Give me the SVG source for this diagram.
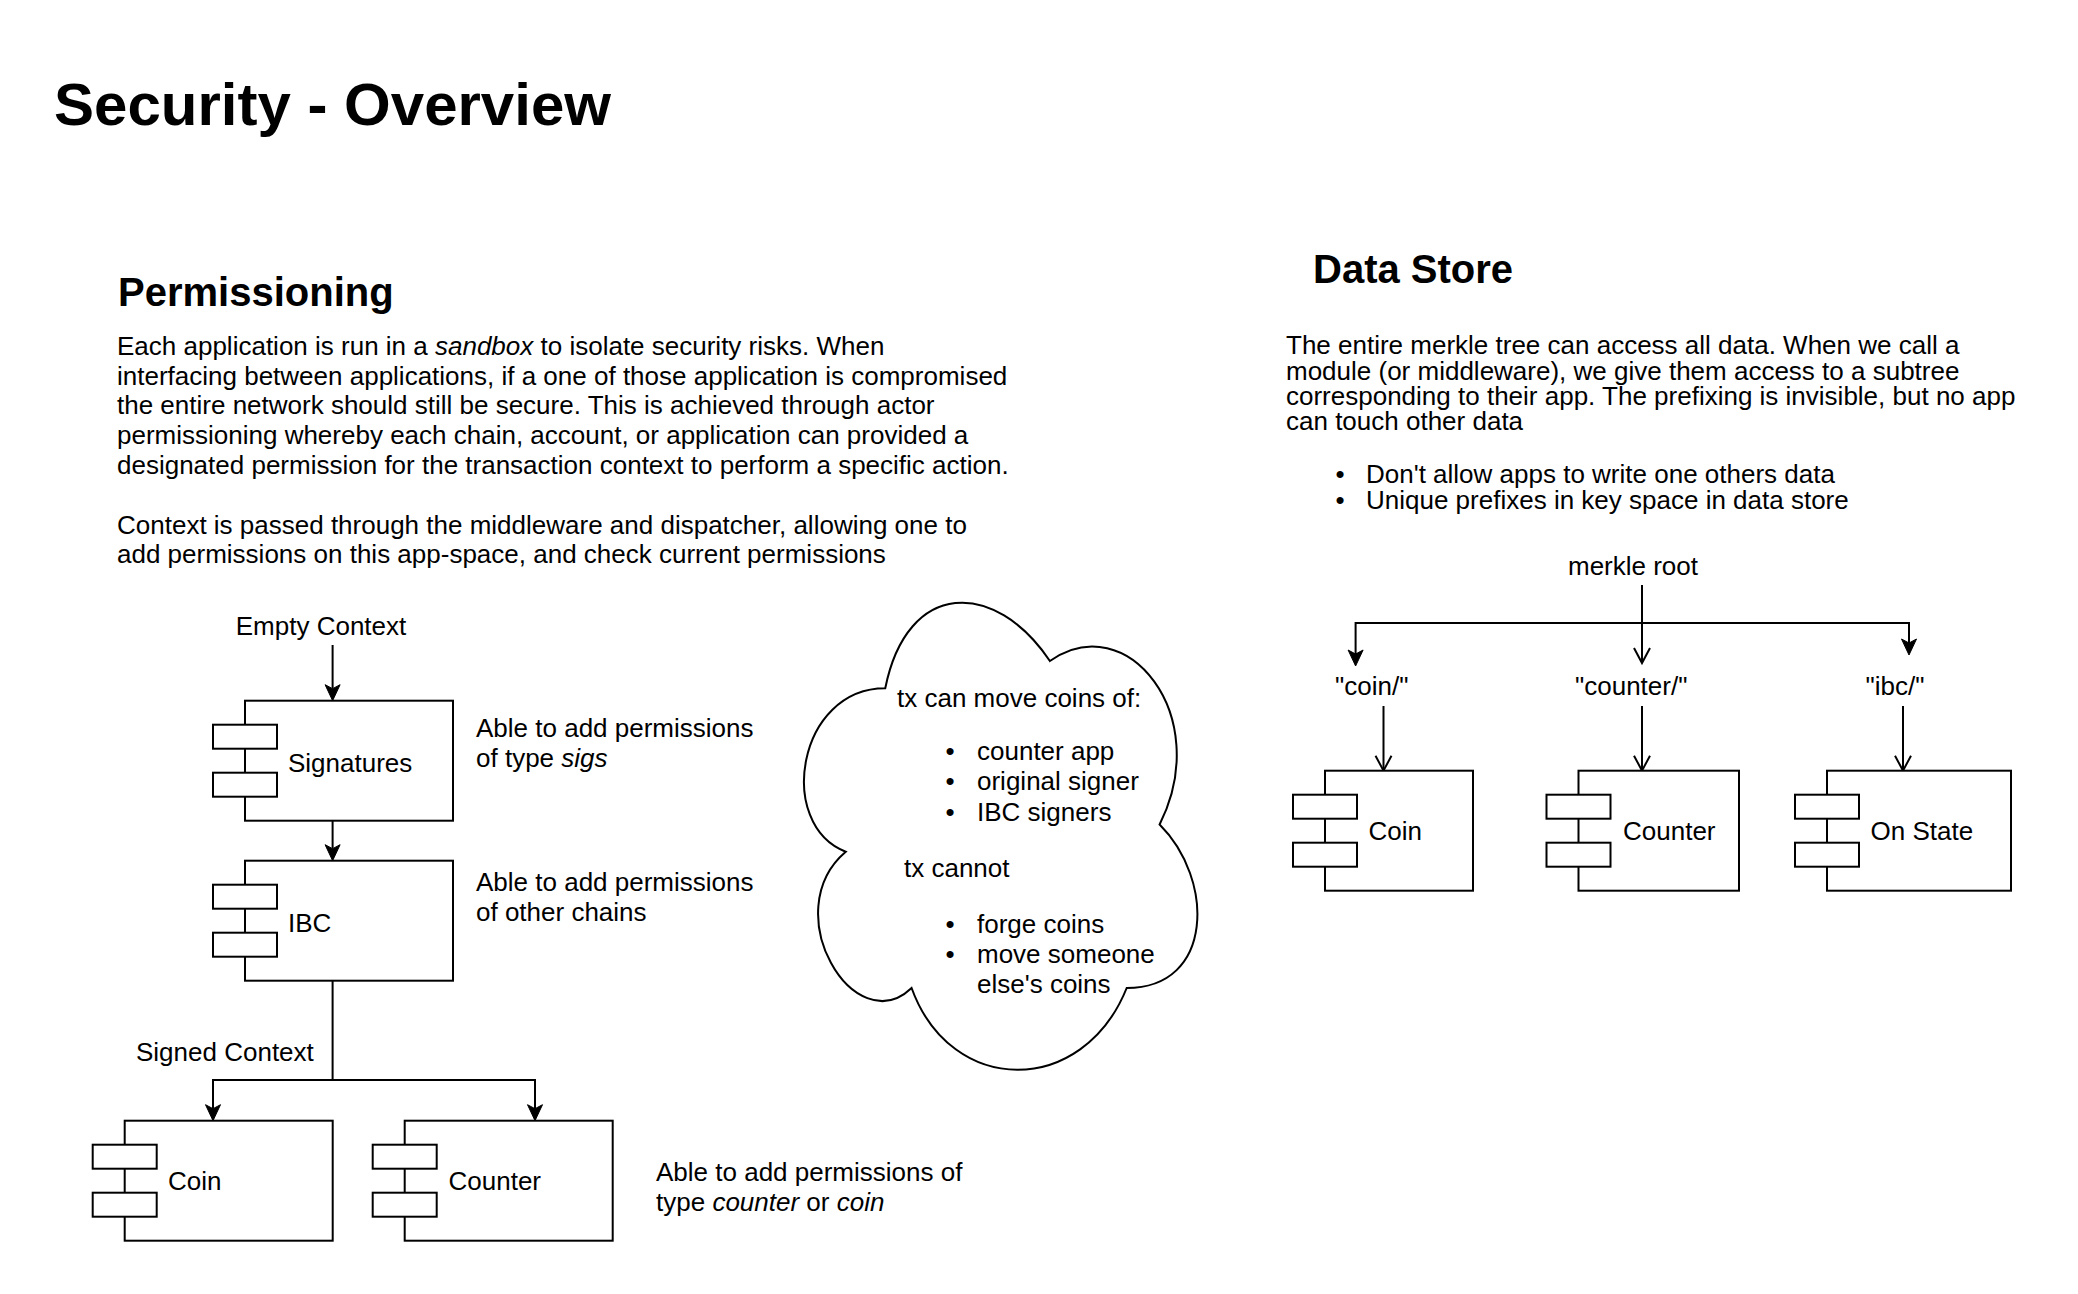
<svg xmlns="http://www.w3.org/2000/svg" width="2078" height="1294" viewBox="0 0 2078 1294">
<style>
text{font-family:"Liberation Sans",Arial,sans-serif;fill:#000;font-size:26px}
.title{font-size:60px;font-weight:bold}
.h{font-size:40px;font-weight:bold}
.i{font-style:italic}
.box{fill:#fff;stroke:#000;stroke-width:2}
.edge{fill:none;stroke:#000;stroke-width:2}
</style>
<defs>
<marker id="classic" markerUnits="userSpaceOnUse" viewBox="-17 -9 18 18" refX="-12" refY="0" markerWidth="18" markerHeight="18" orient="auto" overflow="visible">
<path d="M0,0 L-16,-7.5 L-12,0 L-16,7.5 Z" fill="#000" stroke="#000" stroke-width="1"/>
</marker>
<marker id="open" markerUnits="userSpaceOnUse" viewBox="-17 -9 18 18" refX="-1" refY="0" markerWidth="18" markerHeight="18" orient="auto" overflow="visible">
<path d="M-15,-8 L0,0 L-15,8" fill="none" stroke="#000" stroke-width="2"/>
</marker>
</defs>
<rect width="2078" height="1294" fill="#fff"/>

<g id="title"><text class="title" x="54" y="125">Security - Overview</text></g>

<g id="permissioning-text">
<text class="h" x="118" y="306">Permissioning</text>
<text x="117" y="354.5">Each application is run in a <tspan class="i">sandbox</tspan> to isolate security risks. When</text>
<text x="117" y="384.5">interfacing between applications, if a one of those application is compromised</text>
<text x="117" y="414">the entire network should still be secure. This is achieved through actor</text>
<text x="117" y="443.5">permissioning whereby each chain, account, or application can provided a</text>
<text x="117" y="473.5">designated permission for the transaction context to perform a specific action.</text>
<text x="117" y="533.5">Context is passed through the middleware and dispatcher, allowing one to</text>
<text x="117" y="563">add permissions on this app-space, and check current permissions</text>
</g>

<g id="datastore-text">
<text class="h" x="1313" y="282.5">Data Store</text>
<text x="1286" y="354">The entire merkle tree can access all data. When we call a</text>
<text x="1286" y="379.5">module (or middleware), we give them access to a subtree</text>
<text x="1286" y="405">corresponding to their app. The prefixing is invisible, but no app</text>
<text x="1286" y="430">can touch other data</text>
<text x="1335.5" y="483">•</text><text x="1366" y="483">Don't allow apps to write one others data</text>
<text x="1335.5" y="508.5">•</text><text x="1366" y="508.5">Unique prefixes in key space in data store</text>
</g>

<g id="connectors">
<path class="edge" d="M332.6,645 V688.7" marker-end="url(#classic)"/>
<path class="edge" d="M332.6,820.7 V848.7" marker-end="url(#classic)"/>
<path class="edge" d="M332.6,980.7 V1080 H213 V1108.7" marker-end="url(#classic)"/>
<path class="edge" d="M332.6,1080 H535 V1108.7" marker-end="url(#classic)"/>
<path class="edge" d="M1642,585 V662" marker-end="url(#open)"/>
<path class="edge" d="M1642,623 H1355.6 V654" marker-end="url(#classic)"/>
<path class="edge" d="M1642,623 H1909 V643" marker-end="url(#classic)"/>
<path class="edge" d="M1383.5,706 V769.7" marker-end="url(#open)"/>
<path class="edge" d="M1642,706 V769.7" marker-end="url(#open)"/>
<path class="edge" d="M1903,706 V769.7" marker-end="url(#open)"/>
</g>

<g id="empty-context"><text x="321" y="634.5" text-anchor="middle">Empty Context</text></g>

<g id="signatures">
<rect class="box" x="245" y="700.7" width="208" height="120"/>
<rect class="box" x="213" y="724.7" width="64" height="24"/>
<rect class="box" x="213" y="772.7" width="64" height="24"/>
<text x="288" y="771.5">Signatures</text>
</g>
<g id="signatures-note">
<text x="476" y="736.5">Able to add permissions</text>
<text x="476" y="766.5">of type <tspan class="i">sigs</tspan></text>
</g>

<g id="ibc">
<rect class="box" x="245" y="860.7" width="208" height="120"/>
<rect class="box" x="213" y="884.7" width="64" height="24"/>
<rect class="box" x="213" y="932.7" width="64" height="24"/>
<text x="288" y="931.5">IBC</text>
</g>
<g id="ibc-note">
<text x="476" y="890.5">Able to add permissions</text>
<text x="476" y="920.5">of other chains</text>
</g>

<g id="signed-context"><text x="136" y="1060.5">Signed Context</text></g>

<g id="coin-left">
<rect class="box" x="124.7" y="1120.7" width="208" height="120"/>
<rect class="box" x="92.7" y="1144.7" width="64" height="24"/>
<rect class="box" x="92.7" y="1192.7" width="64" height="24"/>
<text x="168" y="1189.5">Coin</text>
</g>
<g id="counter-left">
<rect class="box" x="404.7" y="1120.7" width="208" height="120"/>
<rect class="box" x="372.7" y="1144.7" width="64" height="24"/>
<rect class="box" x="372.7" y="1192.7" width="64" height="24"/>
<text x="448.5" y="1189.5">Counter</text>
</g>
<g id="bottom-note">
<text x="656" y="1181">Able to add permissions of</text>
<text x="656" y="1211">type <tspan class="i">counter</tspan> or <tspan class="i">coin</tspan></text>
</g>

<g id="cloud">
<path class="box" d="M885.25,688.25 C797.45,688.25 775.5,824.5 845.74,851.75 C775.5,911.7 854.52,1042.5 911.59,988 C951.1,1097 1082.8,1097 1126.7,988 C1214.5,988 1214.5,879 1159.6,824.5 C1214.5,715.5 1126.7,606.5 1049.9,661 C995,579.25 907.2,579.25 885.25,688.25 Z"/>
<text x="897" y="706.5">tx can move coins of:</text>
<text x="945.5" y="759.5">•</text><text x="977" y="759.5">counter app</text>
<text x="945.5" y="790">•</text><text x="977" y="790">original signer</text>
<text x="945.5" y="820.5">•</text><text x="977" y="820.5">IBC signers</text>
<text x="904" y="876.5">tx cannot</text>
<text x="945.5" y="932.5">•</text><text x="977" y="932.5">forge coins</text>
<text x="945.5" y="963">•</text><text x="977" y="963">move someone</text>
<text x="977" y="992.5">else's coins</text>
</g>

<g id="merkle-root"><text x="1633" y="574.5" text-anchor="middle">merkle root</text></g>
<g id="label-coin"><text x="1335" y="694.5">"coin/"</text></g>
<g id="label-counter"><text x="1575" y="694.5">"counter/"</text></g>
<g id="label-ibc"><text x="1865.5" y="694.5">"ibc/"</text></g>

<g id="coin-right">
<rect class="box" x="1325" y="770.7" width="148" height="120"/>
<rect class="box" x="1293" y="794.7" width="64" height="24"/>
<rect class="box" x="1293" y="842.7" width="64" height="24"/>
<text x="1368.5" y="839.5">Coin</text>
</g>
<g id="counter-right">
<rect class="box" x="1578.5" y="770.7" width="160.5" height="120"/>
<rect class="box" x="1546.5" y="794.7" width="64" height="24"/>
<rect class="box" x="1546.5" y="842.7" width="64" height="24"/>
<text x="1623" y="839.5">Counter</text>
</g>
<g id="onstate">
<rect class="box" x="1827" y="770.7" width="184" height="120"/>
<rect class="box" x="1795" y="794.7" width="64" height="24"/>
<rect class="box" x="1795" y="842.7" width="64" height="24"/>
<text x="1870.5" y="839.5">On State</text>
</g>
</svg>
